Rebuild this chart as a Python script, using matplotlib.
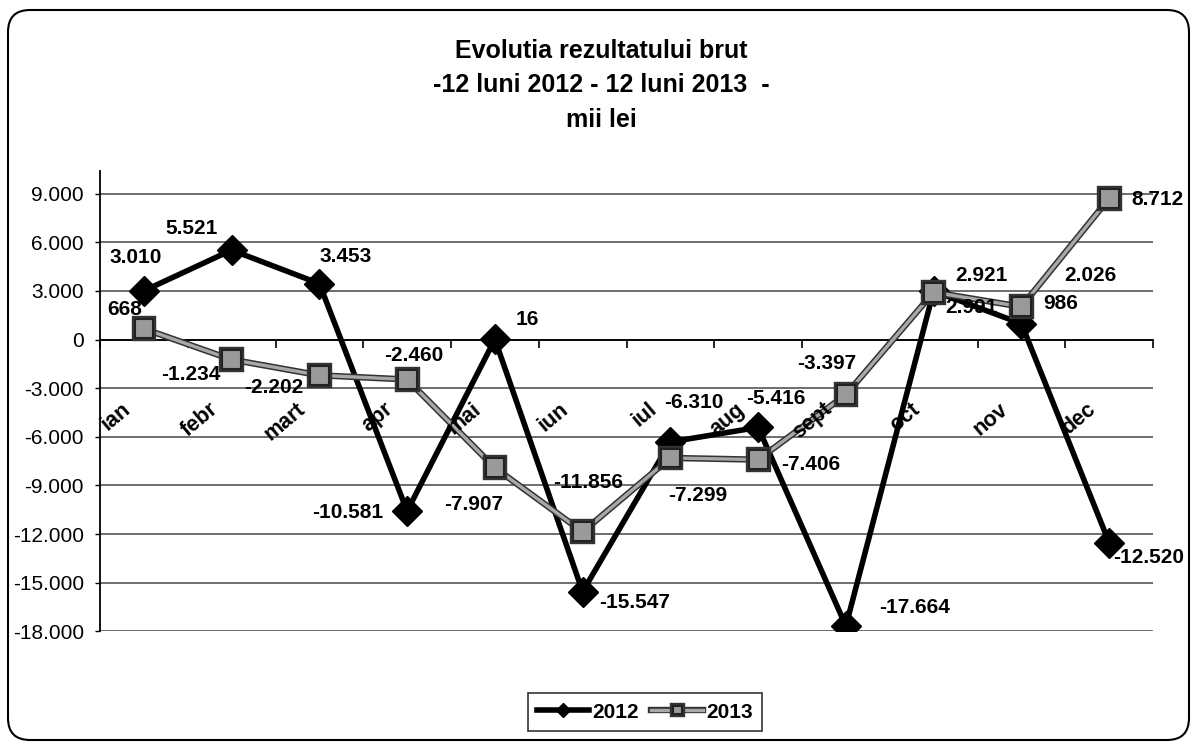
import matplotlib
matplotlib.use("Agg")
import matplotlib.pyplot as plt
from matplotlib.patches import FancyBboxPatch
from matplotlib.ticker import FuncFormatter, FixedLocator
import matplotlib.patheffects as pe

# ---- data ----
months = ["ian", "febr", "mart", "apr", "mai", "iun", "iul", "aug", "sept", "oct", "nov", "dec"]
values_2012 = [3010, 5521, 3453, -10581, 16, -15547, -6310, -5416, -17664, 2991, 986, -12520]
values_2013 = [668, -1234, -2202, -2460, -7907, -11856, -7299, -7406, -3397, 2921, 2026, 8712]
series_names = ["2012", "2013"]
title_lines = ["Evolutia rezultatului brut", "-12 luni 2012 - 12 luni 2013  -", "mii lei"]
yticks = list(range(-18000, 9001, 3000))

# label offsets in pixels (dx right, dy down) -- layout only
off_2012 = [(-8, -33), (-40, -22), (26, -27), (-59, 1), (32, -20), (52, 11),
            (23, -39), (18, -29), (69, -18), (38, 16), (39, -20), (40, 15)]
off_2013 = [(-19, -19), (-41, 15), (-46, 12), (7, -24), (-21, 37), (5, -49),
            (27, 38), (53, 5), (-19, -31), (48, -17), (69, -31), (48, 1)]

plt.rcParams['font.family'] = ['Liberation Sans', 'DejaVu Sans']

W, H = 1191, 742
fig = plt.figure(figsize=(W / 100, H / 100), dpi=100)
fig.patch.set_facecolor('white')

ax = fig.add_axes([100 / W, 1 - 631.4 / H, (1153 - 100) / W, (631.4 - 171) / H])
ax.set_facecolor('white')
ax.set_xlim(-0.5, len(months) - 0.5)
ax.set_ylim(-18000, 10400)

# grid
ax.set_yticks(yticks)
ax.yaxis.set_major_formatter(FuncFormatter(lambda v, p: f"{int(v):,}".replace(",", ".")))
ax.grid(axis='y', color='#555555', linewidth=1.2)
ax.set_axisbelow(True)
ax.tick_params(axis='y', direction='out', length=3.6, width=1, pad=8, labelsize=15, color='black')

for s in ['top', 'right']:
    ax.spines[s].set_visible(False)
ax.spines['left'].set_linewidth(1.3)
ax.spines['bottom'].set_position(('data', 0))
ax.spines['bottom'].set_linewidth(1.3)
ax.xaxis.set_major_locator(FixedLocator([i - 0.5 for i in range(len(months) + 1)]))
ax.tick_params(axis='x', direction='out', length=6, width=1.2, labelbottom=False)

x = list(range(len(months)))

ax.plot(x, values_2012, color='black', linewidth=4, marker='D', markersize=15,
        markerfacecolor='black', markeredgecolor='black', zorder=3, label=series_names[0])
ax.plot(x, values_2013, color='#a8a8a8', linewidth=2.4, marker='s', markersize=13.5,
        markerfacecolor='#9a9a9a', markeredgecolor='#222222', markeredgewidth=1.5,
        path_effects=[pe.Stroke(linewidth=4.6, foreground='#333333'), pe.Normal()],
        zorder=4, label=series_names[1])

# category labels
for i, m in enumerate(months):
    ax.text(i - 0.11, -3650, m, rotation=40, ha='right', va='top', fontsize=15.5,
            fontweight='bold', zorder=5)

def fmt(v):
    return f"{v:,}".replace(",", ".")

for i, v in enumerate(values_2012):
    dx, dy = off_2012[i]
    ax.annotate(fmt(v), (i, v), xytext=(dx, -dy), textcoords='offset pixels',
                ha='center', va='center', fontsize=15, fontweight='bold', zorder=6)
for i, v in enumerate(values_2013):
    dx, dy = off_2013[i]
    ax.annotate(fmt(v), (i, v), xytext=(dx, -dy), textcoords='offset pixels',
                ha='center', va='center', fontsize=15, fontweight='bold', zorder=6)

# title
fig.text(601 / W, 1 - 39 / H, "\n".join(title_lines), ha='center', va='top',
         fontsize=18, fontweight='bold', linespacing=1.55)

# legend
leg = ax.legend(loc='center', bbox_to_anchor=(645 / W, 1 - 712 / H), bbox_transform=fig.transFigure,
                ncol=2, frameon=True, fancybox=False, edgecolor='black', markerscale=0.45,
                handlelength=2.5, handletextpad=0.15, columnspacing=0.6, borderpad=0.45,
                prop={'size': 15, 'weight': 'bold'})
leg.get_frame().set_linewidth(1.2)

# outer rounded frame
frame = FancyBboxPatch((8, 2), 1181, 730, boxstyle='round,pad=0,rounding_size=22',
                       transform=None, fill=False, edgecolor='black', linewidth=1.5)
fig.patches.append(frame)

fig.savefig('out.png', dpi=100, facecolor='white')
